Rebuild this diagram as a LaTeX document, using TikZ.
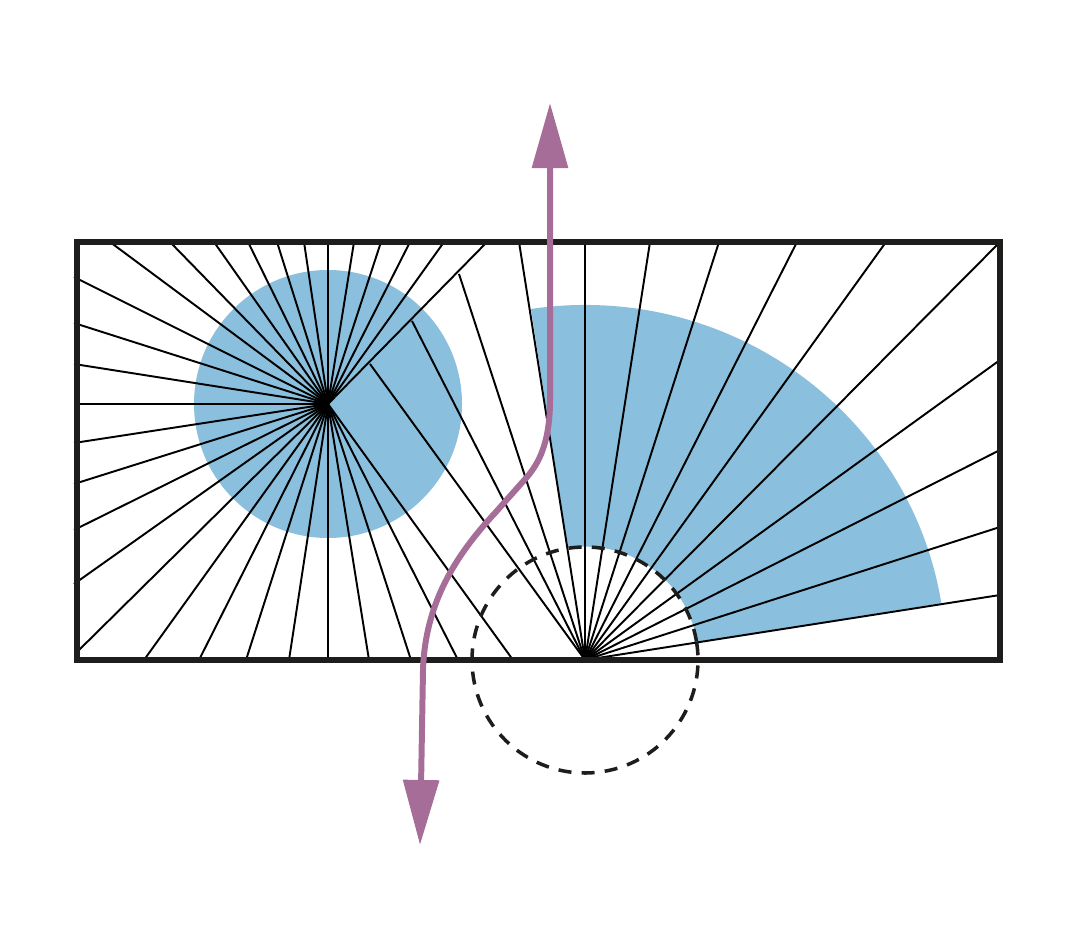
\documentclass[tikz,border=0pt]{standalone}
\usepackage{tikz}
\usetikzlibrary{arrows.meta}
\definecolor{zoneblue}{HTML}{8ABFDD}
\definecolor{pathpurple}{HTML}{A56D97}
\definecolor{inkblack}{HTML}{1D1D1B}
\tikzset{spoke/.style={line width=0.55pt, color=black}}
\newcommand {\spk}[3] {\draw[spoke] (#1) -- (#2,#3);}
\newcommand {\topL}[1] {\spk{lc}{#1}{692}}
\newcommand {\sideL}[1] {\spk{lc}{74}{#1}}
\newcommand {\botL}[1] {\spk{lc}{#1}{274}}

\begin{document}
\begin{tikzpicture}[x=0.01cm,y=0.01cm]
	\useasboundingbox (0,0) rectangle (1080,934);
	\coordinate (lc) at (328,530);
	\coordinate (rc) at (585,274);
	\coordinate (up) at (550,831);
	\coordinate (down) at (420,89);
	\fill[zoneblue] (lc) circle (134);
	\fill[zoneblue] (531,625) arc[start angle=98.6, end angle=9.2, x radius=361, y radius=355] -- (697,292)
		arc[start angle=9, end angle=99, radius=113] -- cycle;
	\topL{110} \topL{170} \topL{214} \topL{248} \topL{277} \topL{304}
	\topL{328} \topL{354} \topL{381} \topL{410} \topL{444} \topL{487}
	\sideL{657} \sideL{611} \sideL{570} \sideL{530} \sideL{491} \sideL{450} \sideL{404} \sideL{350}
	\spk{lc}{77}{282}
	\botL{144} \botL{199} \botL{246} \botL{289} \botL{328} \botL{369} \botL{411} \botL{458} \botL{513}
	\spk{rc}{370}{570}
	\spk{rc}{412}{613}
	\spk{rc}{459}{660}
	\spk{rc}{519}{692}
	\spk{rc}{585}{692}
	\spk{rc}{650}{692}
	\spk{rc}{719}{692}
	\spk{rc}{797}{692}
	\spk{rc}{886}{692}
	\spk{rc}{1000}{692}
	\spk{rc}{1000}{574}
	\spk{rc}{1000}{484}
	\spk{rc}{1000}{407}
	\spk{rc}{1000}{339}
	\draw[line width=1pt, color=inkblack, dash pattern=on 3.7pt off 2.9pt] (rc) ++(9:113) arc[start angle=9, end angle=-351, radius=113];
	\draw[line width=1.45pt, color=inkblack] (77,274) rectangle (1000,692);
	\draw[line width=1.7pt, color=pathpurple, {Triangle[length=0.65cm,width=0.35cm]}-{Triangle[length=0.65cm,width=0.35cm]}]
		(up) -- (550,534) .. controls (550,490) and (538,470) .. (527,457)
		-- (495,421) .. controls (455,378) and (425,330) .. (423,264) -- (down);
\end{tikzpicture}
\end{document}
